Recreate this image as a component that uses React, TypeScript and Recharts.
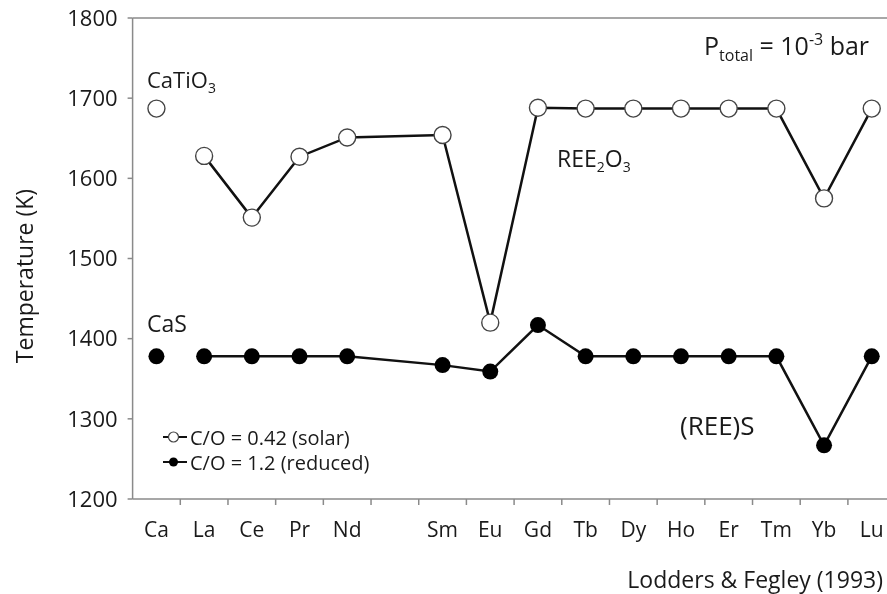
import React from 'react';
import { ComposedChart, Line, XAxis, YAxis, ReferenceLine } from 'recharts';

// Category order along the x axis (Pm is an unlabeled gap)
const categories = ['Ca', 'La', 'Ce', 'Pr', 'Nd', 'Pm', 'Sm', 'Eu', 'Gd', 'Tb', 'Dy', 'Ho', 'Er', 'Tm', 'Yb', 'Lu'];
const unlabeledCategories = ['Pm'];

// Rare earth elements and condensation temperatures (K)
const reeElements = ['La', 'Ce', 'Pr', 'Nd', 'Sm', 'Eu', 'Gd', 'Tb', 'Dy', 'Ho', 'Er', 'Tm', 'Yb', 'Lu'];
const solarTemps = [1628, 1551, 1627, 1651, 1654, 1420, 1688, 1687, 1687, 1687, 1687, 1687, 1575, 1687];
const reducedTemps = [1378, 1378, 1378, 1378, 1367, 1359, 1417, 1378, 1378, 1378, 1378, 1378, 1267, 1378];

// Calcium hosts: CaTiO3 (solar) and CaS (reduced)
const caSolarTemp = 1687;
const caReducedTemp = 1378;

const yTicks = [1200, 1300, 1400, 1500, 1600, 1700, 1800];

const data = [
  { pos: categories.indexOf('Ca'), caSolar: caSolarTemp, caReduced: caReducedTemp },
  ...reeElements.map((el, i) => ({ pos: categories.indexOf(el), solar: solarTemps[i], reduced: reducedTemps[i] })),
];

const centerTicks = categories.map((_, i) => i);
const boundaryTicks = categories.slice(0, categories.length - 1).map((_, i) => i + 0.5);
const xTicks = [...centerTicks, ...boundaryTicks].sort((a, b) => a - b);

const FONT = "'Open Sans', sans-serif";
const AXIS = '#8a8a8a';
const INK = '#1a1a1a';

const XTick = (props: any) => {
  const { x, y, payload } = props;
  const v = payload.value;
  if (Number.isInteger(v)) {
    const label = categories[v];
    if (!label || unlabeledCategories.includes(label)) return <g />;
    return (
      <text x={x} y={y + 38} textAnchor="middle" fontFamily={FONT} fontSize={21} fill={INK}>
        {label}
      </text>
    );
  }
  return <line x1={x} y1={y} x2={x} y2={y + 6} stroke={AXIS} strokeWidth={1.5} />;
};

const OpenDot = (props: any) => {
  const { cx, cy, index } = props;
  if (cy == null || cx == null || isNaN(cy) || isNaN(cx)) return <g key={`o${index}`} />;
  return <circle key={`o${index}`} cx={cx} cy={cy} r={8.5} fill="#ffffff" stroke="#444" strokeWidth={1.4} />;
};

const FilledDot = (props: any) => {
  const { cx, cy, index } = props;
  if (cy == null || cx == null || isNaN(cy) || isNaN(cx)) return <g key={`f${index}`} />;
  return <circle key={`f${index}`} cx={cx} cy={cy} r={8} fill="#000000" stroke="none" />;
};

export default function App() {
  return (
    <div style={{ position: 'fixed', left: 0, top: 0, width: 887, height: 594 }}>
      <ComposedChart width={887} height={594} data={data} margin={{ top: 18, right: 0, bottom: 0, left: 0 }}>
        <XAxis
          dataKey="pos"
          type="number"
          domain={[-0.5, 15.32]}
          allowDataOverflow
          ticks={xTicks}
          interval={0}
          tick={<XTick />}
          tickLine={false}
          tickSize={0}
          tickMargin={0}
          height={95}
          axisLine={{ stroke: AXIS, strokeWidth: 1.5 }}
        />
        <YAxis
          type="number"
          domain={[1200, 1800]}
          ticks={yTicks}
          interval={0}
          width={132.6}
          tickSize={5}
          tickMargin={10}
          tick={{ fill: INK, fontSize: 22, fontFamily: FONT }}
          tickLine={{ stroke: AXIS, strokeWidth: 1.5 }}
          axisLine={{ stroke: AXIS, strokeWidth: 1.5 }}
        />
        <ReferenceLine y={1800} stroke={AXIS} strokeWidth={1.5} />
        <Line dataKey="solar" stroke="#111" strokeWidth={2.5} dot={OpenDot} isAnimationActive={false} />
        <Line dataKey="reduced" stroke="#111" strokeWidth={2.5} dot={FilledDot} isAnimationActive={false} />
        <Line dataKey="caSolar" stroke="none" dot={OpenDot} isAnimationActive={false} />
        <Line dataKey="caReduced" stroke="none" dot={FilledDot} isAnimationActive={false} />
      </ComposedChart>
      <svg
        width={887}
        height={594}
        style={{ position: 'absolute', left: 0, top: 0, pointerEvents: 'none' }}
        fontFamily={FONT}
        fill={INK}
      >
        <text transform="translate(33,276) rotate(-90)" textAnchor="middle" fontSize={23}>
          Temperature (K)
        </text>
        <text x={147} y={88} fontSize={22}>
          CaTiO<tspan fontSize={14} dy={5}>3</tspan>
        </text>
        <text x={147} y={332} fontSize={23}>CaS</text>
        <text x={557} y={167} fontSize={23}>
          REE<tspan fontSize={14} dy={5}>2</tspan>
          <tspan dy={-5}>O</tspan>
          <tspan fontSize={14} dy={5}>3</tspan>
        </text>
        <text x={680} y={435} fontSize={26}>(REE)S</text>
        <text x={704} y={55} fontSize={25}>
          P<tspan fontSize={16} dy={6}>total</tspan>
          <tspan dy={-6}> = 10</tspan>
          <tspan fontSize={16} dy={-10}>-3</tspan>
          <tspan dy={10}> bar</tspan>
        </text>
        <text x={883} y={588} textAnchor="end" fontSize={23}>
          Lodders &amp; Fegley (1993)
        </text>
        {/* legend */}
        <g>
          <line x1={163} y1={437} x2={187} y2={437} stroke="#111" strokeWidth={2} />
          <circle cx={173.5} cy={437} r={5} fill="#fff" stroke="#444" strokeWidth={1.2} />
          <text x={190} y={437} dominantBaseline="central" fontSize={20}>C/O = 0.42 (solar)</text>
          <line x1={163} y1={462} x2={187} y2={462} stroke="#111" strokeWidth={2} />
          <circle cx={173.5} cy={462} r={4.5} fill="#000" />
          <text x={190} y={462} dominantBaseline="central" fontSize={20}>C/O = 1.2 (reduced)</text>
        </g>
      </svg>
    </div>
  );
}
